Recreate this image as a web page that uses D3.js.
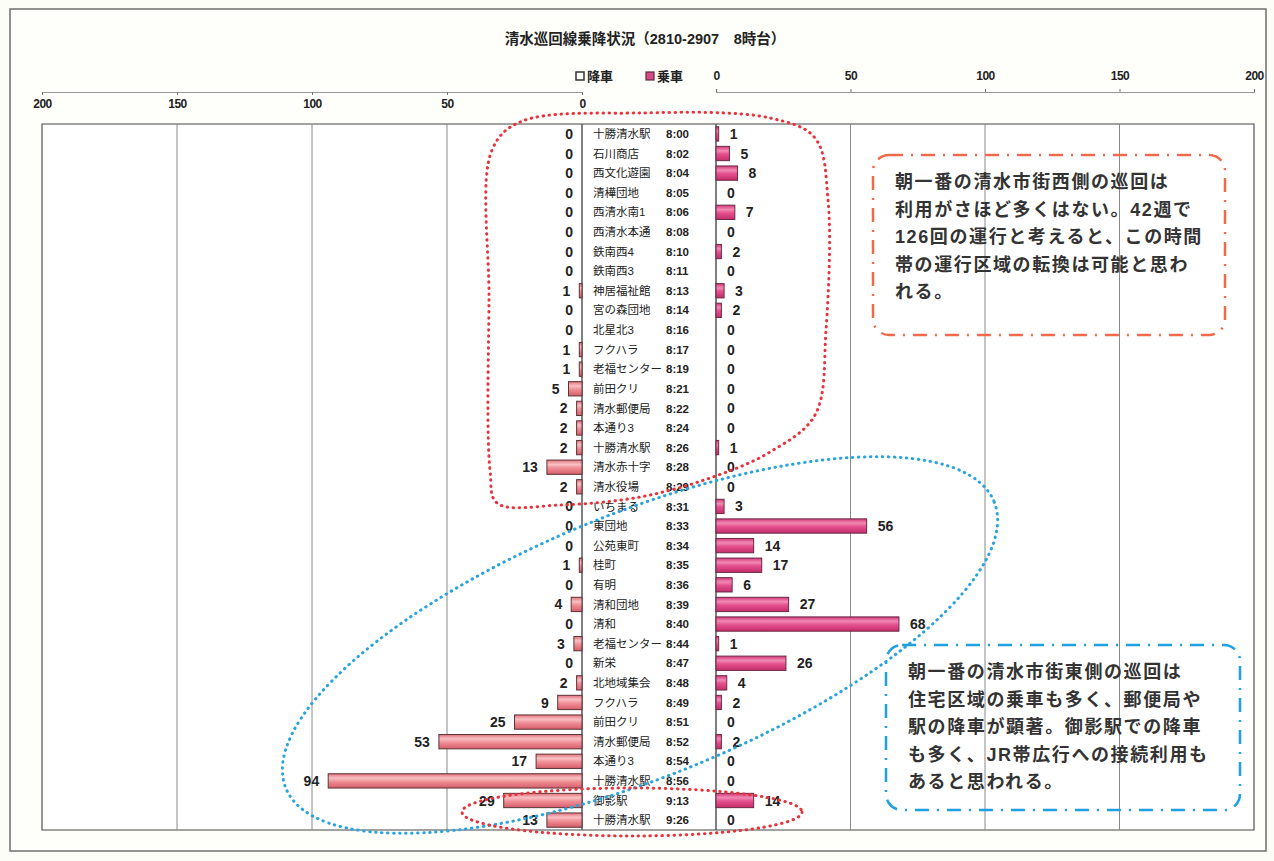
<!DOCTYPE html>
<html>
<head>
<meta charset="utf-8">
<script src="https://cdn.jsdelivr.net/npm/d3@7/dist/d3.min.js"></script>
<style>
html,body{margin:0;padding:0;background:#fff;}
svg{display:block;}
text{font-family:"Liberation Sans","Noto Sans CJK JP",sans-serif;}
</style>
</head>
<body>
<svg id="chart" width="1274" height="861"></svg>
<script>
// ---- data ----
const stops = ["十勝清水駅","石川商店","西文化遊園","清樺団地","西清水南1","西清水本通","鉄南西4","鉄南西3","神居福祉館","宮の森団地","北星北3","フクハラ","老福センター","前田クリ","清水郵便局","本通り3","十勝清水駅","清水赤十字","清水役場","いちまる","東団地","公苑東町","桂町","有明","清和団地","清和","老福センター","新栄","北地域集会","フクハラ","前田クリ","清水郵便局","本通り3","十勝清水駅","御影駅","十勝清水駅"];
const times = ["8:00","8:02","8:04","8:05","8:06","8:08","8:10","8:11","8:13","8:14","8:16","8:17","8:19","8:21","8:22","8:24","8:26","8:28","8:29","8:31","8:33","8:34","8:35","8:36","8:39","8:40","8:44","8:47","8:48","8:49","8:51","8:52","8:54","8:56","9:13","9:26"];
const alighting = [0,0,0,0,0,0,0,0,1,0,0,1,1,5,2,2,2,13,2,0,0,0,1,0,4,0,3,0,2,9,25,53,17,94,29,13]; // 降車
const boarding  = [1,5,8,0,7,0,2,0,3,2,0,0,0,0,0,0,1,0,0,3,56,14,17,6,27,68,1,26,4,2,0,2,0,0,14,0];   // 乗車
const tickValues = [0,50,100,150,200];
const title = "清水巡回線乗降状況（2810-2907　8時台）";
const legendLabels = ["降車","乗車"];
const noteWest = ["朝一番の清水市街西側の巡回は","利用がさほど多くはない。42週で","126回の運行と考えると、この時間","帯の運行区域の転換は可能と思わ","れる。"];
const noteEast = ["朝一番の清水市街東側の巡回は","住宅区域の乗車も多く、郵便局や","駅の降車が顕著。御影駅での降車","も多く、JR帯広行への接続利用も","あると思われる。"];

// ---- layout ----
const svg = d3.select("#chart");
const plotTop = 124, plotBottom = 830;
const leftX0 = 42, leftZero = 582, rightZero = 716, rightX1 = 1254;
const axisY = 92;

const idx = d3.range(stops.length);
const y = d3.scaleBand().domain(idx).range([plotTop, plotBottom]).paddingInner(0.27).paddingOuter(0.14);
const xL = d3.scaleLinear().domain([0,200]).range([leftZero, leftX0]);
const xR = d3.scaleLinear().domain([0,200]).range([rightZero, rightX1]);

// gradients
const defs = svg.append("defs");
function grad(id, stopsArr){
  const g = defs.append("linearGradient").attr("id", id).attr("x1",0).attr("y1",0).attr("x2",0).attr("y2",1);
  stopsArr.forEach(([o,c]) => g.append("stop").attr("offset", o).attr("stop-color", c));
}
grad("gL", [["0%","#e2707c"],["30%","#f8c0c2"],["55%","#f08f97"],["100%","#d65d6a"]]);
grad("gR", [["0%","#d5377a"],["30%","#f08ab3"],["55%","#e4508e"],["100%","#c52c6a"]]);

// outer frame
svg.append("rect").attr("x",0).attr("y",0).attr("width",1274).attr("height",861).attr("fill","#fdfdf7");
svg.append("rect").attr("x",10).attr("y",9).attr("width",1256).attr("height",842)
  .attr("fill","#fefefb").attr("stroke","#6e6e6e").attr("stroke-width",1.5);

// plot area
svg.append("rect").attr("x",leftX0).attr("y",plotTop).attr("width",rightX1-leftX0).attr("height",plotBottom-plotTop)
  .attr("fill","#fff").attr("stroke","#444").attr("stroke-width",1);

// grid lines
svg.append("g").selectAll("line").data(tickValues).join("line")
  .attr("x1", d=>xL(d)).attr("x2", d=>xL(d)).attr("y1", plotTop).attr("y2", plotBottom)
  .attr("stroke", d=> d===0 ? "#555" : "#8a8a8a").attr("stroke-width", d=> d===0?1.5:1);
svg.append("g").selectAll("line").data(tickValues).join("line")
  .attr("x1", d=>xR(d)).attr("x2", d=>xR(d)).attr("y1", plotTop).attr("y2", plotBottom)
  .attr("stroke", d=> d===0 ? "#555" : "#8a8a8a").attr("stroke-width", d=> d===0?1.5:1);

// axes
const axL = svg.append("g").attr("transform",`translate(0,${axisY})`)
  .call(d3.axisBottom(xL).tickValues(tickValues).tickSize(3).tickPadding(4));
const axR = svg.append("g").attr("transform",`translate(0,${axisY})`)
  .call(d3.axisTop(xR).tickValues(tickValues).tickSize(3).tickPadding(9));
[axL, axR].forEach(a => {
  a.select(".domain").attr("stroke","#999").attr("stroke-width",1.2);
  a.selectAll(".tick line").attr("stroke","#777");
  a.selectAll(".tick text").attr("font-size",12).attr("font-weight","bold").attr("fill","#222")
    .attr("font-family","'Liberation Sans Narrow','DejaVu Sans Condensed','Liberation Sans',sans-serif")
    .attr("letter-spacing","-0.5px");
});

// bars
svg.append("g").selectAll("rect").data(idx).join("rect")
  .attr("x", i => xL(alighting[i])).attr("y", i => y(i))
  .attr("width", i => xL(0) - xL(alighting[i])).attr("height", y.bandwidth())
  .attr("fill","url(#gL)").attr("stroke","#5a3535").attr("stroke-width",1)
  .attr("display", i => alighting[i] > 0 ? null : "none");
svg.append("g").selectAll("rect").data(idx).join("rect")
  .attr("x", i => xR(0)).attr("y", i => y(i))
  .attr("width", i => xR(boarding[i]) - xR(0)).attr("height", y.bandwidth())
  .attr("fill","url(#gR)").attr("stroke","#6a2a45").attr("stroke-width",1)
  .attr("display", i => boarding[i] > 0 ? null : "none");

// value labels
svg.append("g").selectAll("text").data(idx).join("text")
  .attr("x", i => xL(alighting[i]) - 9).attr("y", i => y(i) + y.bandwidth()/2)
  .attr("dy","0.36em").attr("text-anchor","end")
  .attr("font-size",14).attr("fill","#222").attr("font-weight","bold")
  .text(i => alighting[i]);
svg.append("g").selectAll("text").data(idx).join("text")
  .attr("x", i => xR(boarding[i]) + 11).attr("y", i => y(i) + y.bandwidth()/2)
  .attr("dy","0.36em").attr("text-anchor","start")
  .attr("font-size",14).attr("fill","#222").attr("font-weight","bold")
  .text(i => boarding[i]);

// category labels (stop names + times)
const lab = svg.append("g");
lab.selectAll("text.name").data(idx).join("text").attr("class","name")
  .attr("x", leftZero + 11).attr("y", i => y(i) + y.bandwidth()/2).attr("dy","0.36em")
  .attr("font-size",11.5).attr("fill","#222")
  .attr("font-family","'Noto Sans CJK JP',sans-serif")
  .text(i => stops[i]);
lab.selectAll("text.time").data(idx).join("text").attr("class","time")
  .attr("x", leftZero + 84).attr("y", i => y(i) + y.bandwidth()/2).attr("dy","0.36em")
  .attr("font-size",11.5).attr("fill","#222").attr("font-weight","bold")
  .text(i => times[i]);

// title
svg.append("text").attr("x",645).attr("y",44).attr("text-anchor","middle")
  .attr("font-size",14.5).attr("font-weight","bold").attr("fill","#222")
  .attr("font-family","'Noto Sans CJK JP',sans-serif").text(title);

// legend
const lg = svg.append("g").attr("font-family","'Noto Sans CJK JP',sans-serif");
lg.append("rect").attr("x",576).attr("y",72).attr("width",8).attr("height",8).attr("fill","#fff").attr("stroke","#333").attr("stroke-width",1.5);
lg.append("text").attr("x",587).attr("y",81).attr("font-size",13).attr("font-weight","bold").attr("fill","#222").text(legendLabels[0]);
lg.append("rect").attr("x",646).attr("y",72).attr("width",8).attr("height",8).attr("fill","#d94b86").attr("stroke","#5a2a40").attr("stroke-width",1.2);
lg.append("text").attr("x",657).attr("y",81).attr("font-size",13).attr("font-weight","bold").attr("fill","#222").text(legendLabels[1]);

// annotation outlines
const ann = svg.append("g").attr("fill","none").attr("stroke-linecap","round");
const loop = d3.line().curve(d3.curveCatmullRomClosed.alpha(0.5));
ann.append("path")
  .attr("d", loop([[492,150],[520,122],[640,113],[770,118],[815,138],[828,200],[826,330],[815,415],[770,452],[710,478],[640,497],[560,505],[497,503],[490,470],[489,300]]))
  .attr("stroke","#e8333c").attr("stroke-width",3).attr("stroke-dasharray","0.5,5.5");
ann.append("ellipse").attr("cx",640).attr("cy",645).attr("rx",382).attr("ry",132)
  .attr("transform","rotate(-22 640 645)")
  .attr("stroke","#2aa4dc").attr("stroke-width",3).attr("stroke-dasharray","0.5,5.5");
ann.append("ellipse").attr("cx",632).attr("cy",812).attr("rx",170).attr("ry",24)
  .attr("stroke","#e8333c").attr("stroke-width",3).attr("stroke-dasharray","0.5,5.5");

// note boxes
function note(x, yy, w, h, color, lines){
  const g = svg.append("g");
  g.append("rect").attr("x",x).attr("y",yy).attr("width",w).attr("height",h).attr("rx",16)
    .attr("fill","none").attr("stroke",color).attr("stroke-width",2.5)
    .attr("stroke-dasharray","14,8,2,8");
  g.selectAll("text").data(lines).join("text")
    .attr("x", x + 22).attr("y", (d,i) => yy + 33 + i*27.6)
    .attr("font-size",18).attr("font-weight","bold").attr("fill","#333")
    .attr("letter-spacing","1.6px")
    .attr("font-family","'Noto Sans CJK JP',sans-serif")
    .text(d => d);
}
note(873, 155, 352, 180, "#f2684a", noteWest);
note(886, 645, 354, 165, "#1ea0e2", noteEast);
</script>
</body>
</html>
